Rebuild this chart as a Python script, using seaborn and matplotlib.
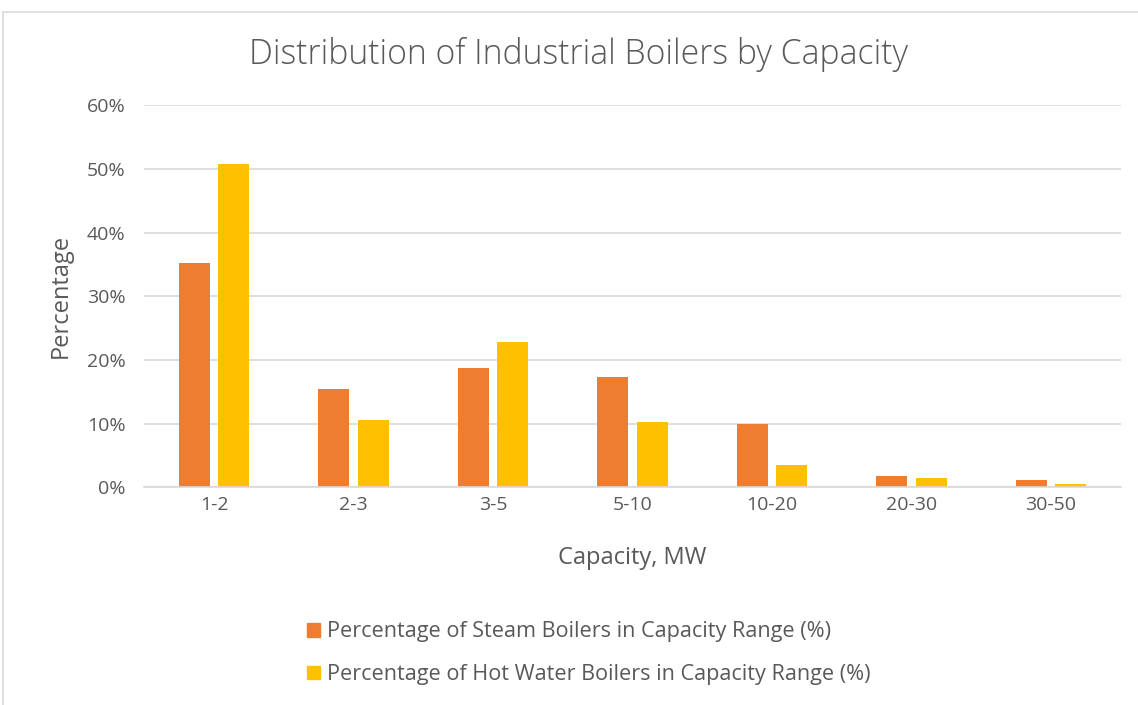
import matplotlib.pyplot as plt
import matplotlib.patches as mpatches
import pandas as pd
import seaborn as sns
from matplotlib.ticker import PercentFormatter

# ── Data ──────────────────────────────────────────────────────────────────────
capacity = ["1-2", "2-3", "3-5", "5-10", "10-20", "20-30", "30-50"]
steam_pct = [35.2, 15.5, 18.8, 17.3, 9.9, 1.8, 1.15]
hot_water_pct = [50.8, 10.5, 22.8, 10.2, 3.45, 1.45, 0.5]

steam_label = "Percentage of Steam Boilers in Capacity Range (%)"
hot_label = "Percentage of Hot Water Boilers in Capacity Range (%)"

df = pd.DataFrame({
    "capacity": capacity * 2,
    "pct": steam_pct + hot_water_pct,
    "series": [steam_label] * len(capacity) + [hot_label] * len(capacity),
})

# ── Style ─────────────────────────────────────────────────────────────────────
sns.set_theme(style="white")
plt.rcParams["font.family"] = ["Open Sans", "DejaVu Sans"]
TEXT = "#595959"
GRID = "#d9d9d9"
palette = {steam_label: "#ED7D31", hot_label: "#FFC000"}

fig = plt.figure(figsize=(11.38, 7.05), dpi=100)
ax = fig.add_axes([0.1268, 0.3088, 0.858, 0.5418])

sns.barplot(data=df, x="capacity", y="pct", hue="series", palette=palette,
            width=0.564, gap=0.21, ax=ax, legend=False, saturation=1,
            edgecolor="none")

ax.set_ylim(0, 60)
ax.set_yticks(range(0, 61, 10))
ax.yaxis.set_major_formatter(PercentFormatter(decimals=0))
ax.set_xlim(-0.5, len(capacity) - 0.5)
ax.grid(axis="y", color=GRID, linewidth=1.2)
ax.set_axisbelow(True)
for side in ["top", "right", "left"]:
    ax.spines[side].set_visible(False)
ax.spines["bottom"].set_color(GRID)
ax.spines["bottom"].set_linewidth(1.2)
ax.tick_params(axis="both", length=0, labelsize=14, colors=TEXT)
ax.tick_params(axis="y", pad=13.5)
ax.tick_params(axis="x", pad=6)

ax.set_xlabel("Capacity, MW", fontsize=17, color=TEXT, labelpad=23)
ax.set_ylabel("Percentage", fontsize=17, color=TEXT, labelpad=10)

fig.text(0.508, 0.922, "Distribution of Industrial Boilers by Capacity",
         ha="center", va="center", fontsize=24.3, color=TEXT, fontweight="light")

# legend at the bottom, stacked
handles = [mpatches.Patch(color=palette[s]) for s in (steam_label, hot_label)]
fig.legend(handles, [steam_label, hot_label], loc="upper left",
           bbox_to_anchor=(0.2605, 0.134), frameon=False, fontsize=15.6,
           labelcolor=TEXT, handlelength=0.6, handleheight=0.6,
           handletextpad=0.3, labelspacing=1.0, borderpad=0)

# outer chart frame
fig.patches.append(mpatches.Rectangle((0.003, -0.01), 1.0, 1.002 - 0.009,
                                      transform=fig.transFigure, fill=False,
                                      edgecolor=GRID, linewidth=1.2))

plt.savefig("out.png", dpi=100)
plt.close()
